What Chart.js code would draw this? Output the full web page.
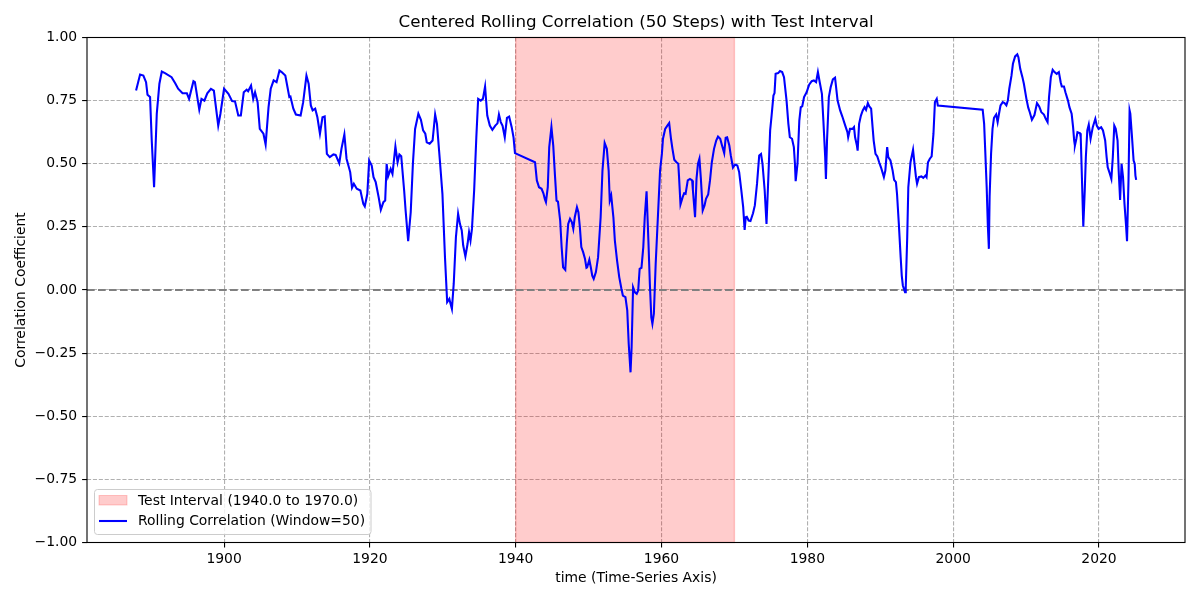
<!DOCTYPE html>
<html>
<head>
<meta charset="utf-8">
<script src="https://cdn.jsdelivr.net/npm/chart.js@4/dist/chart.umd.min.js"></script>
<style>
html,body{margin:0;padding:0;background:#fff;}
#wrap{width:1200px;height:600px;}
</style>
</head>
<body>
<div id="wrap"><canvas id="c" width="1200" height="600"></canvas></div>
<script>
const years = [
1887.93,1888.48,1888.93,1889.3,1889.5,1889.85,1890.08,1890.4,1890.77,1891.13,1891.46,1891.9,1892.8,1893.3,1893.7,1894.3,1894.9,1895.2,1895.8,1896.0,1896.6,1896.9,1897.3,1897.7,1898.2,1898.6,1899.2,1899.5,1900.0,1900.6,1901.1,1901.5,1901.95,1902.3,1902.7,1903.1,1903.3,1903.7,1904.0,1904.25,1904.6,1904.9,1905.4,1905.7,1906.1,1906.4,1906.8,1907.2,1907.6,1907.9,1908.4,1908.7,1908.95,1909.1,1909.5,1909.85,1910.5,1910.85,1911.3,1911.6,1911.9,1912.15,1912.5,1912.8,1913.15,1913.5,1913.8,1914.1,1914.5,1915.0,1915.3,1915.8,1916.1,1916.5,1916.8,1917.3,1917.55,1917.8,1918.2,1918.7,1919.1,1919.3,1919.65,1919.9,1920.25,1920.5,1920.8,1921.2,1921.5,1921.85,1922.1,1922.3,1922.5,1922.85,1923.1,1923.5,1923.8,1924.05,1924.3,1924.7,1924.9,1925.25,1925.6,1925.9,1926.2,1926.65,1927.0,1927.3,1927.6,1927.8,1928.2,1928.6,1928.95,1929.2,1929.6,1929.95,1930.3,1930.6,1930.9,1931.0,1931.25,1931.5,1931.8,1932.1,1932.35,1932.6,1932.8,1933.1,1933.4,1933.6,1933.8,1934.0,1934.3,1934.6,1934.85,1935.2,1935.5,1935.8,1936.1,1936.45,1936.8,1937.2,1937.5,1937.7,1937.95,1938.2,1938.5,1938.8,1939.1,1939.45,1939.7,1939.9,
1942.65,1942.9,1943.2,1943.55,1943.8,1944.0,1944.15,1944.4,1944.6,1944.9,1945.15,1945.4,1945.6,1945.8,1946.1,1946.3,1946.5,1946.8,1947.0,1947.2,1947.45,1947.7,1947.9,1948.1,1948.4,1948.6,1948.8,1949.0,1949.25,1949.5,1949.7,1949.8,1950.1,1950.3,1950.5,1950.7,1951.0,1951.3,1951.65,1951.9,1952.2,1952.5,1952.75,1952.9,1953.1,1953.4,1953.6,1953.9,1954.2,1954.5,1954.7,1955.05,1955.3,1955.5,1955.75,1955.9,1956.1,1956.35,1956.6,1956.8,1957.0,1957.25,1957.5,1957.7,1957.95,1958.2,1958.4,1958.6,1958.75,1958.95,1959.2,1959.5,1959.8,1960.05,1960.2,1960.5,1960.8,1961.05,1961.3,1961.5,1961.75,1962.05,1962.3,1962.4,1962.6,1962.9,1963.1,1963.3,1963.6,1963.9,1964.2,1964.3,1964.6,1964.8,1965.0,1965.2,1965.4,1965.65,1965.9,1966.1,1966.4,1966.65,1966.9,1967.2,1967.5,1967.75,1968.05,1968.3,1968.6,1968.8,1969.0,1969.3,1969.5,1969.8,
1970.1,1970.4,1970.65,1970.95,1971.2,1971.4,1971.55,1971.7,1971.95,1972.2,1972.55,1972.8,1973.1,1973.4,1973.65,1973.85,1974.15,1974.4,1974.6,1974.9,1975.1,1975.35,1975.5,1975.65,1976.0,1976.25,1976.55,1976.8,1977.15,1977.4,1977.6,1977.9,1978.15,1978.3,1978.4,1978.65,1978.9,1979.1,1979.3,1979.55,1979.9,1980.25,1980.6,1980.9,1981.2,1981.45,1981.7,1982.0,1982.2,1982.45,1982.55,1982.7,1982.95,1983.2,1983.5,1983.8,1984.15,1984.5,1984.8,1985.2,1985.5,1985.6,1985.85,1986.2,1986.4,1986.55,1986.8,1986.9,1987.1,1987.35,1987.6,1987.85,1988.05,1988.3,1988.5,1988.75,1988.95,1989.1,1989.35,1989.6,1989.85,1990.1,1990.3,1990.5,1990.7,1990.95,1991.1,1991.4,1991.7,1991.9,1992.15,1992.3,1992.55,1992.8,1992.95,1993.1,1993.4,1993.5,1993.7,1993.85,1994.15,1994.5,1994.7,1994.9,1995.05,1995.3,1995.65,1995.9,1996.2,1996.35,1996.55,1996.8,1997.05,1997.3,1997.5,1997.75,1997.9,
2004.05,2004.25,2004.4,2004.6,2004.75,2004.9,2005.0,2005.2,2005.4,2005.6,2005.9,2006.1,2006.3,2006.5,2006.8,2007.05,2007.3,2007.5,2007.7,2008.0,2008.2,2008.5,2008.8,2008.95,2009.2,2009.5,2009.7,2010.05,2010.3,2010.5,2010.8,2011.15,2011.5,2011.8,2012.1,2012.45,2012.7,2012.95,2013.15,2013.4,2013.65,2013.9,2014.2,2014.5,2014.75,2014.9,2015.2,2015.4,2015.75,2015.95,2016.25,2016.45,2016.6,2016.7,2016.9,2017.05,2017.4,2017.5,2017.7,2017.85,2018.05,2018.2,2018.4,2018.6,2018.85,2019.15,2019.5,2019.7,2019.95,2020.3,2020.55,2020.85,2021.05,2021.2,2021.5,2021.7,2021.9,2022.1,2022.3,2022.55,2022.7,2022.9,2023.1,2023.3,2023.5,2023.7,2023.85,2024.05,2024.2,2024.3,2024.5,2024.75,2024.9,2025.0,2025.1
];
const rollingCorr = [
0.790,0.853,0.849,0.823,0.773,0.764,0.592,0.407,0.698,0.817,0.865,0.859,0.843,0.819,0.797,0.779,0.779,0.757,0.827,0.823,0.714,0.757,0.750,0.779,0.797,0.790,0.651,0.698,0.797,0.777,0.748,0.747,0.691,0.691,0.783,0.793,0.787,0.810,0.757,0.783,0.744,0.638,0.619,0.576,0.724,0.797,0.830,0.823,0.869,0.863,0.849,0.803,0.764,0.766,0.718,0.695,0.691,0.744,0.849,0.817,0.731,0.711,0.718,0.684,0.619,0.684,0.687,0.539,0.526,0.537,0.535,0.502,0.559,0.616,0.520,0.467,0.405,0.421,0.401,0.394,0.341,0.331,0.381,0.513,0.493,0.447,0.427,0.368,0.318,0.348,0.354,0.500,0.450,0.480,0.460,0.568,0.506,0.537,0.530,0.394,0.315,0.193,0.308,0.500,0.638,0.698,0.674,0.632,0.619,0.585,0.579,0.592,0.695,0.658,0.513,0.381,0.130,-0.048,-0.035,-0.048,-0.075,0.025,0.209,0.302,0.262,0.236,0.176,0.133,0.183,0.229,0.196,0.242,0.394,0.605,0.757,0.750,0.757,0.806,0.691,0.651,0.634,0.651,0.660,0.695,0.665,0.650,0.605,0.682,0.687,0.645,0.605,0.542,
0.506,0.434,0.407,0.401,0.383,0.360,0.348,0.407,0.566,0.645,0.572,0.447,0.354,0.350,0.275,0.170,0.090,0.080,0.183,0.262,0.282,0.269,0.242,0.288,0.328,0.308,0.249,0.170,0.150,0.124,0.088,0.090,0.120,0.090,0.057,0.044,0.071,0.130,0.288,0.473,0.582,0.559,0.473,0.354,0.374,0.288,0.196,0.117,0.051,0.005,-0.022,-0.028,-0.081,-0.213,-0.326,-0.226,0.011,-0.009,-0.015,-0.002,0.084,0.088,0.170,0.288,0.391,0.196,0.025,-0.108,-0.134,-0.094,0.104,0.288,0.473,0.539,0.599,0.638,0.651,0.661,0.599,0.559,0.516,0.506,0.500,0.450,0.339,0.368,0.383,0.381,0.434,0.440,0.434,0.397,0.288,0.440,0.500,0.520,0.440,0.315,0.335,0.361,0.378,0.434,0.506,0.559,0.592,0.608,0.599,0.572,0.542,0.603,0.605,0.572,0.533,0.485,
0.497,0.493,0.467,0.394,0.328,0.238,0.288,0.290,0.275,0.273,0.304,0.335,0.421,0.533,0.539,0.500,0.394,0.262,0.407,0.632,0.691,0.770,0.780,0.856,0.859,0.867,0.863,0.843,0.750,0.658,0.605,0.599,0.566,0.500,0.431,0.500,0.671,0.724,0.727,0.764,0.783,0.813,0.827,0.830,0.823,0.863,0.823,0.777,0.671,0.526,0.440,0.592,0.764,0.803,0.834,0.841,0.750,0.711,0.687,0.651,0.625,0.605,0.638,0.638,0.645,0.605,0.572,0.552,0.658,0.691,0.711,0.724,0.714,0.740,0.727,0.718,0.645,0.592,0.539,0.529,0.506,0.486,0.467,0.447,0.473,0.566,0.526,0.513,0.473,0.436,0.427,0.381,0.262,0.130,0.057,0.018,-0.009,0.011,0.209,0.407,0.506,0.555,0.500,0.447,0.421,0.447,0.450,0.444,0.453,0.447,0.506,0.520,0.529,0.619,0.744,0.757,0.731,
0.714,0.658,0.552,0.407,0.262,0.163,0.368,0.539,0.638,0.682,0.695,0.665,0.700,0.731,0.744,0.740,0.731,0.750,0.797,0.849,0.896,0.925,0.933,0.922,0.876,0.843,0.817,0.757,0.722,0.705,0.674,0.693,0.740,0.727,0.704,0.695,0.678,0.665,0.764,0.843,0.872,0.863,0.856,0.863,0.823,0.806,0.806,0.783,0.750,0.724,0.698,0.645,0.592,0.572,0.599,0.625,0.621,0.605,0.407,0.251,0.394,0.526,0.632,0.655,0.599,0.645,0.678,0.651,0.638,0.645,0.632,0.592,0.526,0.486,0.460,0.440,0.526,0.651,0.638,0.592,0.473,0.357,0.500,0.447,0.341,0.262,0.193,0.434,0.711,0.698,0.619,0.513,0.500,0.453,0.436
];
const xTicks = [1900, 1920, 1940, 1960, 1980, 2000, 2020];
const yTicks = [-1.0, -0.75, -0.5, -0.25, 0.0, 0.25, 0.5, 0.75, 1.0];
const xRange = [1881.2, 2031.8];
const yRange = [-1, 1];
const testStart = 1940.0;
const testEnd = 1970.0;
const windowSize = 50;
const titleText = 'Centered Rolling Correlation (' + windowSize + ' Steps) with Test Interval';
const xLabel = 'time (Time-Series Axis)';
const yLabel = 'Correlation Coefficient';
const testLabel = 'Test Interval (' + testStart.toFixed(1) + ' to ' + testEnd.toFixed(1) + ')';
const lineLabel = 'Rolling Correlation (Window=' + windowSize + ')';

const FONT = "'DejaVu Sans', sans-serif";
const SPAN_COLOR = 'rgba(255,0,0,0.2)';
const LINE_COLOR = '#0000ff';

const decoPlugin = {
  id: 'deco',
  beforeDatasetsDraw(chart) {
    const {ctx, chartArea: a, scales: {x, y}} = chart;
    ctx.save();
    const x1 = x.getPixelForValue(testStart), x2 = x.getPixelForValue(testEnd);
    ctx.fillStyle = SPAN_COLOR;
    ctx.fillRect(x1, a.top, x2 - x1, a.bottom - a.top);
    ctx.strokeStyle = SPAN_COLOR;
    ctx.lineWidth = 1.4;
    ctx.strokeRect(x1, a.top, x2 - x1, a.bottom - a.top);
    const y0 = y.getPixelForValue(0);
    ctx.strokeStyle = '#808080';
    ctx.lineWidth = 2.08;
    ctx.setLineDash([7.7, 3.3]);
    ctx.beginPath();
    ctx.moveTo(a.left, y0);
    ctx.lineTo(a.right, y0);
    ctx.stroke();
    ctx.restore();
  },
  afterDraw(chart) {
    const {ctx, chartArea: a} = chart;
    ctx.save();
    ctx.strokeStyle = '#000';
    ctx.lineWidth = 1.1;
    ctx.strokeRect(a.left, a.top, a.right - a.left, a.bottom - a.top);
    ctx.fillStyle = '#000';
    ctx.textAlign = 'center';
    ctx.textBaseline = 'middle';
    ctx.font = '16.7px ' + FONT;
    ctx.fillText(titleText, (a.left + a.right) / 2, 23);
    ctx.font = '13.9px ' + FONT;
    ctx.fillText(xLabel, (a.left + a.right) / 2, 578);
    ctx.save();
    ctx.translate(21, (a.top + a.bottom) / 2);
    ctx.rotate(-Math.PI / 2);
    ctx.fillText(yLabel, 0, 0);
    ctx.restore();
    const lx = 94.5, ly = 489.5, lw = 276.5, lh = 45;
    ctx.fillStyle = 'rgba(255,255,255,0.8)';
    ctx.strokeStyle = '#cccccc';
    ctx.lineWidth = 1;
    ctx.beginPath();
    if (ctx.roundRect) ctx.roundRect(lx, ly, lw, lh, 3); else ctx.rect(lx, ly, lw, lh);
    ctx.fill();
    ctx.stroke();
    ctx.fillStyle = SPAN_COLOR;
    ctx.strokeStyle = SPAN_COLOR;
    ctx.fillRect(99, 495.5, 28, 9.5);
    ctx.strokeRect(99, 495.5, 28, 9.5);
    ctx.strokeStyle = LINE_COLOR;
    ctx.lineWidth = 2.08;
    ctx.beginPath();
    ctx.moveTo(99, 521);
    ctx.lineTo(127, 521);
    ctx.stroke();
    ctx.fillStyle = '#000';
    ctx.textAlign = 'left';
    ctx.textBaseline = 'middle';
    ctx.font = '13.9px ' + FONT;
    ctx.fillText(testLabel, 138, 501);
    ctx.fillText(lineLabel, 138, 521);
    ctx.restore();
  }
};

const fmt = v => {
  const s = Math.abs(v).toFixed(2);
  return (v < 0 ? '\u2212' : '') + s;
};

new Chart(document.getElementById('c'), {
  type: 'line',
  data: {
    datasets: [{
      label: lineLabel,
      data: years.map((yr, i) => ({x: yr, y: rollingCorr[i]})),
      borderColor: LINE_COLOR,
      backgroundColor: LINE_COLOR,
      borderWidth: 2.08,
      pointRadius: 0,
      tension: 0,
      fill: false
    }]
  },
  options: {
    responsive: false,
    animation: false,
    devicePixelRatio: 1,
    layout: {padding: {top: 37.5, right: 15, left: 0, bottom: 0}},
    plugins: {legend: {display: false}, title: {display: false}, tooltip: {enabled: false}},
    scales: {
      x: {
        type: 'linear',
        min: xRange[0], max: xRange[1],
        afterBuildTicks: s => { s.ticks = xTicks.map(v => ({value: v})); },
        afterFit: s => { s.height = 57.5; },
        ticks: {color: '#000', font: {family: FONT, size: 13.9}, padding: 4, maxRotation: 0, callback: v => String(v)},
        grid: {color: '#b0b0b0', lineWidth: 1.1, drawTicks: true, tickLength: 4.9, tickColor: '#000', tickWidth: 1.1, tickBorderDash: []},
        border: {display: false, dash: [4.1, 1.8]}
      },
      y: {
        type: 'linear',
        min: yRange[0], max: yRange[1],
        afterBuildTicks: s => { s.ticks = yTicks.map(v => ({value: v})); },
        afterFit: s => { s.width = 87; },
        ticks: {color: '#000', font: {family: FONT, size: 13.9}, padding: 5, callback: v => fmt(v)},
        grid: {color: '#b0b0b0', lineWidth: 1.1, drawTicks: true, tickLength: 4.9, tickColor: '#000', tickWidth: 1.1, tickBorderDash: []},
        border: {display: false, dash: [4.1, 1.8]}
      }
    }
  },
  plugins: [decoPlugin]
});
</script>
</body>
</html>
